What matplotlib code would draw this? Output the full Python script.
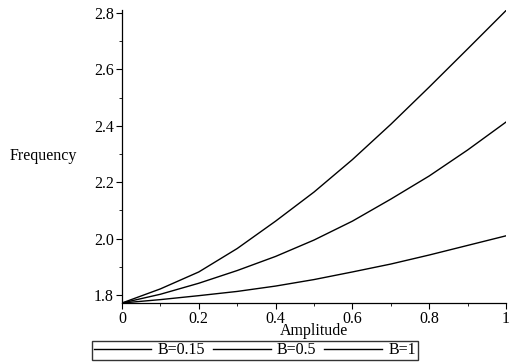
import matplotlib.pyplot as plt
from matplotlib.ticker import MultipleLocator, FormatStrFormatter

amplitude = [0.0, 0.1, 0.2, 0.3, 0.4, 0.5, 0.6, 0.7, 0.8, 0.9, 1.0]
freq_b015 = [1.772, 1.784, 1.798, 1.813, 1.832, 1.855, 1.882, 1.910, 1.942, 1.976, 2.010]
freq_b05 = [1.772, 1.803, 1.842, 1.887, 1.937, 1.995, 2.062, 2.140, 2.222, 2.314, 2.413]
freq_b1 = [1.772, 1.822, 1.882, 1.965, 2.062, 2.165, 2.280, 2.405, 2.537, 2.672, 2.808]
labels = ["B=0.15", "B=0.5", "B=1"]

plt.rcParams["font.family"] = ["Liberation Serif", "DejaVu Serif"]

fig = plt.figure(figsize=(5.11, 3.62), dpi=100)
ax = fig.add_axes([122 / 511, 59 / 362, 384 / 511, 293 / 362])

for ys, lab in zip([freq_b015, freq_b05, freq_b1], labels):
    ax.plot(amplitude, ys, color="black", lw=1.0, label=lab)

ax.set_xlim(0, 1)
ax.set_ylim(1.772, 2.81)
ax.spines["top"].set_visible(False)
ax.spines["right"].set_visible(False)
ax.spines["left"].set_linewidth(0.9)
ax.spines["bottom"].set_linewidth(0.9)

ax.xaxis.set_major_locator(MultipleLocator(0.2))
ax.xaxis.set_minor_locator(MultipleLocator(0.1))
ax.yaxis.set_major_locator(MultipleLocator(0.2))
ax.yaxis.set_minor_locator(MultipleLocator(0.1))
ax.yaxis.set_major_formatter(FormatStrFormatter("%.1f"))


def xfmt(x, p):
    if abs(x) < 1e-9:
        return "0"
    if abs(x - 1) < 1e-9:
        return "1"
    return f"{x:.1f}"


ax.xaxis.set_major_formatter(xfmt)
ax.tick_params(which="major", length=4, width=0.8, labelsize=11.5, pad=2)
ax.tick_params(which="minor", length=2, width=0.6)

ax.set_xlabel("Amplitude", fontsize=11.5, labelpad=-3)
ax.set_ylabel("Frequency", fontsize=11.5, rotation=0, ha="left", va="center")
ax.yaxis.set_label_coords(-0.292, 0.5)

ax.legend(loc="upper center", bbox_to_anchor=(0.346, -0.128), ncol=3, frameon=True,
          fancybox=False, edgecolor="black", fontsize=11.5, handlelength=3.6,
          columnspacing=0.5, handletextpad=0.4, borderpad=0.1, borderaxespad=0)

fig.savefig("out.png", dpi=100)
